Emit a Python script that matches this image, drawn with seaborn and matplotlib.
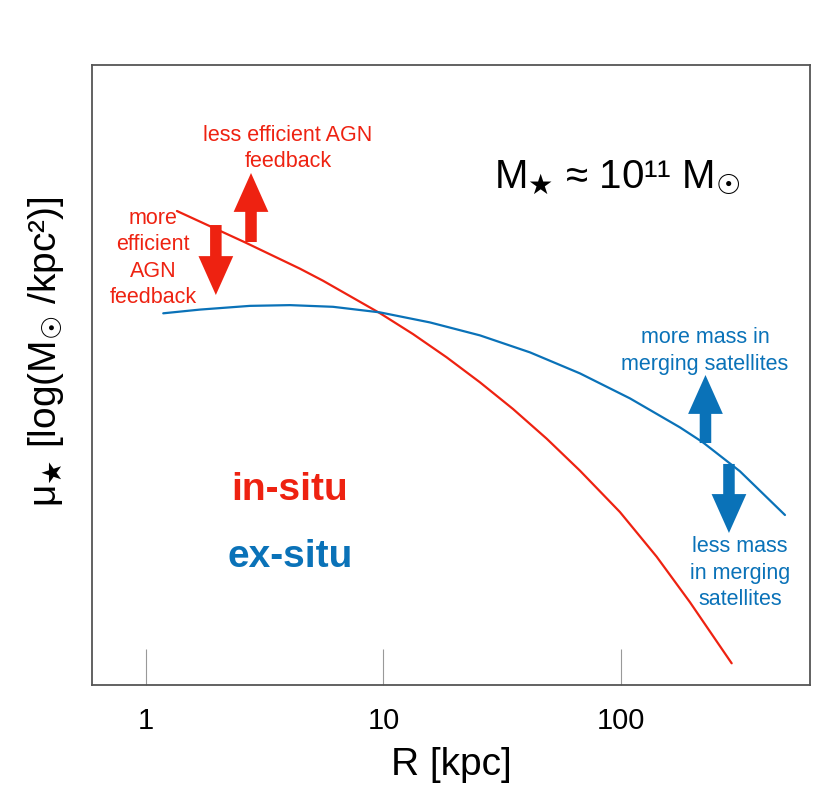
import numpy as np
import pandas as pd
import matplotlib
matplotlib.use('Agg')
import matplotlib.pyplot as plt
from matplotlib.ticker import NullLocator
import seaborn as sns

# Profiles (R in kpc, mu in arbitrary log units 0-10)
r_insitu = [1.351, 2.612, 4.451, 5.564, 9.667, 13.31, 18.46, 25.49, 35.11, 48.67, 67.2, 99.0, 141.3, 195.2, 292.5]
mu_insitu = [7.645, 7.140, 6.715, 6.521, 5.997, 5.661, 5.285, 4.882, 4.452, 3.973, 3.457, 2.790, 2.070, 1.335, 0.35]

r_exsitu = [1.183, 1.688, 2.741, 4.04, 6.131, 9.667, 15.70, 25.49, 41.4, 67.2, 109.1, 177.2, 221.4, 316.9, 490.3]
mu_exsitu = [5.995, 6.055, 6.115, 6.127, 6.100, 6.010, 5.848, 5.639, 5.365, 5.026, 4.623, 4.155, 3.913, 3.447, 2.742]

xticks = [1, 10, 100]
xtick_labels = ['1', '10', '100']

red = '#EE2211'
blue = '#0A72B8'

df = pd.concat([
    pd.DataFrame({'R': r_insitu, 'mu': mu_insitu, 'component': 'in-situ'}),
    pd.DataFrame({'R': r_exsitu, 'mu': mu_exsitu, 'component': 'ex-situ'}),
])

sns.set_style('white')
plt.rcParams['font.family'] = ['Liberation Sans', 'DejaVu Sans']
plt.rcParams['mathtext.fontset'] = 'dejavusans'
plt.rcParams['text.color'] = 'black'
plt.rcParams['axes.labelcolor'] = 'black'
plt.rcParams['xtick.color'] = 'black'

fig = plt.figure(figsize=(8.3, 8.08), dpi=100)
ax = fig.add_axes([92 / 830, 1 - 685 / 808, 718 / 830, 620 / 808])

sns.lineplot(data=df, x='R', y='mu', hue='component', palette={'in-situ': red, 'ex-situ': blue},
             linewidth=1.6, legend=False, ax=ax, sort=False)

ax.set_xscale('log')
ax.set_xlim(0.593, 625)
ax.set_ylim(0, 10)
ax.set_xticks(xticks)
ax.set_xticklabels(xtick_labels)
ax.xaxis.set_minor_locator(NullLocator())
ax.set_yticks([])
ax.tick_params(axis='x', bottom=True, direction='in', length=26, width=0.8, color='#999999',
               labelcolor='black', pad=16, labelsize=21)
for s in ax.spines.values():
    s.set_color('#555555')
    s.set_linewidth(1.3)

ax.set_xlabel('R [kpc]', fontsize=28, va='center')
ax.xaxis.set_label_coords(0.5, -0.129)
ax.set_ylabel('μ$_★$ [log(M$_☉$ /kpc²)]', fontsize=28, va='center')
ax.yaxis.set_label_coords(-0.064, 0.537)

# arrows
def arrow(x, y0, y1, color):
    ax.annotate('', xy=(x, y1), xytext=(x, y0),
                arrowprops=dict(arrowstyle='simple,head_length=2.8,head_width=2.5,tail_width=0.83',
                                mutation_scale=10, color=color, shrinkA=0, shrinkB=0, lw=0))

arrow(2.77, 7.145, 8.258, red)
arrow(1.97, 7.419, 6.29, red)
arrow(226.9, 3.903, 5.0, blue)
arrow(284.9, 3.565, 2.452, blue)

# annotations
ls = 1.32
ax.text(0.273, 0.8653, 'less efficient AGN\nfeedback', color=red, fontsize=15.5,
        ha='center', va='center', transform=ax.transAxes, linespacing=ls)
ax.text(0.085, 0.6887, 'more\nefficient\nAGN\nfeedback', color=red, fontsize=15.5,
        ha='center', va='center', transform=ax.transAxes, linespacing=ls)
ax.text(0.8538, 0.5387, 'more mass in\nmerging satellites', color=blue, fontsize=15.5,
        ha='center', va='center', transform=ax.transAxes, linespacing=ls)
ax.text(0.9025, 0.1806, 'less mass\nin merging\nsatellites', color=blue, fontsize=15.5,
        ha='center', va='center', transform=ax.transAxes, linespacing=ls)
ax.text(0.7312, 0.8177, 'M$_★$ ≈ 10¹¹ M$_☉$', color='black', fontsize=29,
        ha='center', va='center', transform=ax.transAxes)
ax.text(0.2758, 0.3145, 'in-situ', color=red, fontsize=28, fontweight='bold',
        ha='center', va='center', transform=ax.transAxes)
ax.text(0.2758, 0.2065, 'ex-situ', color=blue, fontsize=28, fontweight='bold',
        ha='center', va='center', transform=ax.transAxes)

fig.savefig('out.png', dpi=100)
